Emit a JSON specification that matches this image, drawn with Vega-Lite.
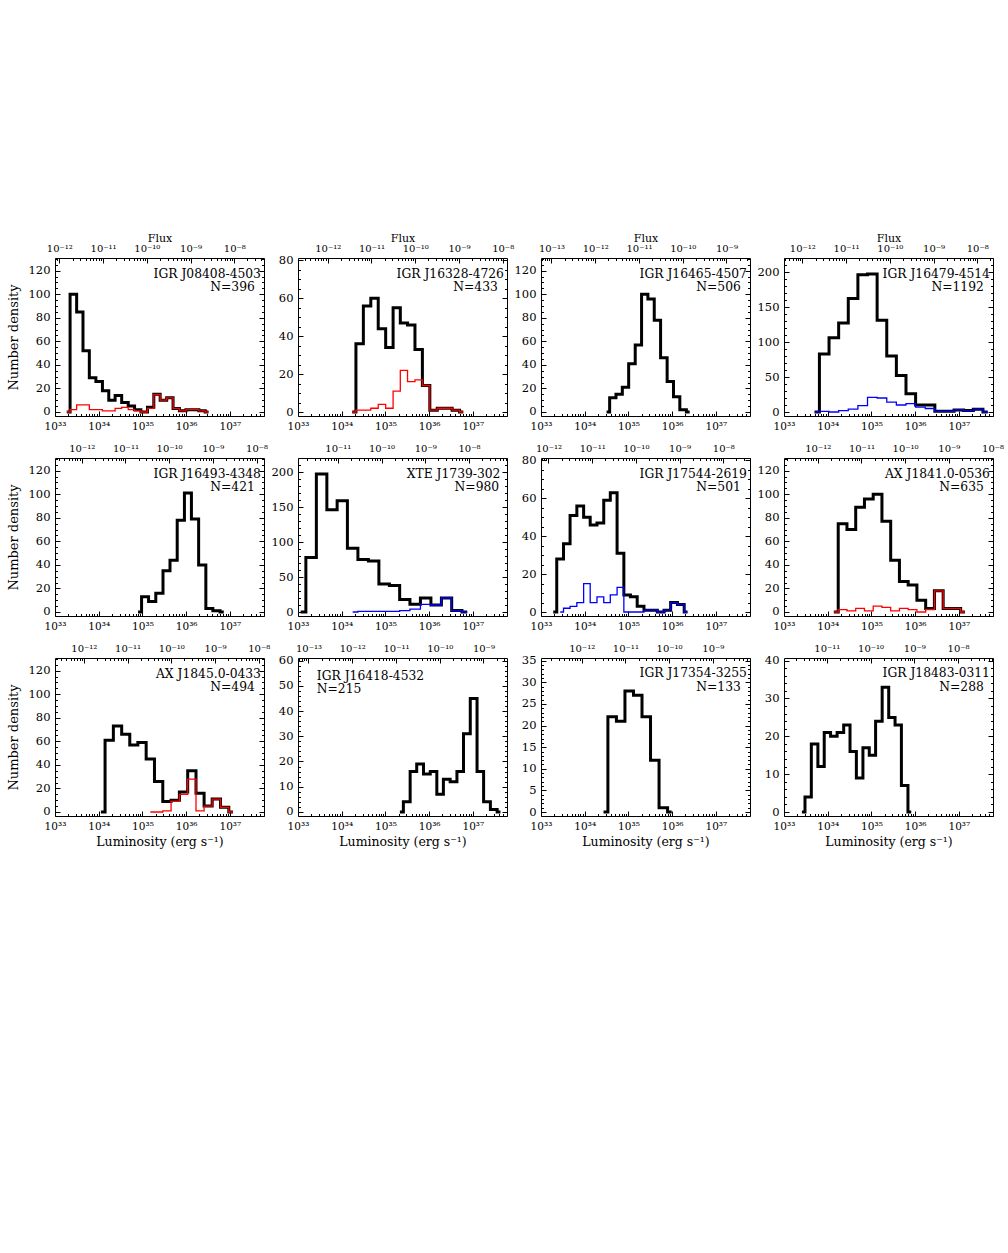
{
"$schema": "https://vega.github.io/schema/vega-lite/v6.json",
"background": "white",
"autosize": {"type": "pad"},
"padding": {"left": 6, "top": 231, "right": 5, "bottom": 5},
"columns": 4,
"spacing": {"row": 42, "column": 34},
"bounds": "flush",
"datasets": {
"h": [
{"p":1,"s":"k","x":33.27,"y":0},{"p":1,"s":"k","x":33.42,"y":100},{"p":1,"s":"k","x":33.57,"y":85},{"p":1,"s":"k","x":33.71,"y":52},{"p":1,"s":"k","x":33.86,"y":29},{"p":1,"s":"k","x":34.01,"y":26},{"p":1,"s":"k","x":34.16,"y":18},{"p":1,"s":"k","x":34.30,"y":10},{"p":1,"s":"k","x":34.45,"y":14},{"p":1,"s":"k","x":34.60,"y":8},{"p":1,"s":"k","x":34.75,"y":5},{"p":1,"s":"k","x":34.89,"y":2},{"p":1,"s":"k","x":35.04,"y":0},{"p":1,"s":"k","x":35.19,"y":4},{"p":1,"s":"k","x":35.33,"y":15},{"p":1,"s":"k","x":35.48,"y":10},{"p":1,"s":"k","x":35.63,"y":12},{"p":1,"s":"k","x":35.77,"y":3},{"p":1,"s":"k","x":35.92,"y":1},{"p":1,"s":"k","x":36.07,"y":2},{"p":1,"s":"k","x":36.22,"y":2},{"p":1,"s":"k","x":36.36,"y":1},{"p":1,"s":"k","x":36.51,"y":0},
{"p":1,"s":"c","x":33.27,"y":0},{"p":1,"s":"c","x":33.42,"y":2},{"p":1,"s":"c","x":33.57,"y":6},{"p":1,"s":"c","x":33.71,"y":6},{"p":1,"s":"c","x":33.86,"y":2},{"p":1,"s":"c","x":34.01,"y":2},{"p":1,"s":"c","x":34.16,"y":1},{"p":1,"s":"c","x":34.30,"y":1},{"p":1,"s":"c","x":34.45,"y":3},{"p":1,"s":"c","x":34.60,"y":4},{"p":1,"s":"c","x":34.75,"y":2},{"p":1,"s":"c","x":34.89,"y":1},{"p":1,"s":"c","x":35.04,"y":0},{"p":1,"s":"c","x":35.19,"y":3},{"p":1,"s":"c","x":35.33,"y":15},{"p":1,"s":"c","x":35.48,"y":10},{"p":1,"s":"c","x":35.63,"y":12},{"p":1,"s":"c","x":35.77,"y":3},{"p":1,"s":"c","x":35.92,"y":1},{"p":1,"s":"c","x":36.07,"y":2},{"p":1,"s":"c","x":36.22,"y":2},{"p":1,"s":"c","x":36.36,"y":1},{"p":1,"s":"c","x":36.51,"y":0},
{"p":2,"s":"k","x":34.24,"y":0},{"p":2,"s":"k","x":34.41,"y":36},{"p":2,"s":"k","x":34.58,"y":56},{"p":2,"s":"k","x":34.75,"y":60},{"p":2,"s":"k","x":34.92,"y":44},{"p":2,"s":"k","x":35.09,"y":34},{"p":2,"s":"k","x":35.26,"y":55},{"p":2,"s":"k","x":35.42,"y":47},{"p":2,"s":"k","x":35.59,"y":46},{"p":2,"s":"k","x":35.76,"y":33},{"p":2,"s":"k","x":35.93,"y":14},{"p":2,"s":"k","x":36.10,"y":1},{"p":2,"s":"k","x":36.27,"y":2},{"p":2,"s":"k","x":36.44,"y":2},{"p":2,"s":"k","x":36.61,"y":1},{"p":2,"s":"k","x":36.78,"y":0},
{"p":2,"s":"c","x":34.24,"y":0},{"p":2,"s":"c","x":34.41,"y":1},{"p":2,"s":"c","x":34.58,"y":1},{"p":2,"s":"c","x":34.75,"y":2},{"p":2,"s":"c","x":34.92,"y":4},{"p":2,"s":"c","x":35.09,"y":2},{"p":2,"s":"c","x":35.26,"y":11},{"p":2,"s":"c","x":35.42,"y":22},{"p":2,"s":"c","x":35.59,"y":16},{"p":2,"s":"c","x":35.76,"y":17},{"p":2,"s":"c","x":35.93,"y":14},{"p":2,"s":"c","x":36.10,"y":1},{"p":2,"s":"c","x":36.27,"y":2},{"p":2,"s":"c","x":36.44,"y":2},{"p":2,"s":"c","x":36.61,"y":1},{"p":2,"s":"c","x":36.78,"y":0},
{"p":3,"s":"k","x":34.50,"y":0},{"p":3,"s":"k","x":34.64,"y":12},{"p":3,"s":"k","x":34.79,"y":15},{"p":3,"s":"k","x":34.93,"y":21},{"p":3,"s":"k","x":35.08,"y":41},{"p":3,"s":"k","x":35.23,"y":57},{"p":3,"s":"k","x":35.37,"y":100},{"p":3,"s":"k","x":35.52,"y":96},{"p":3,"s":"k","x":35.66,"y":78},{"p":3,"s":"k","x":35.81,"y":46},{"p":3,"s":"k","x":35.96,"y":26},{"p":3,"s":"k","x":36.10,"y":13},{"p":3,"s":"k","x":36.25,"y":2},{"p":3,"s":"k","x":36.40,"y":0},
{"p":4,"s":"k","x":33.70,"y":0},{"p":4,"s":"k","x":33.92,"y":83},{"p":4,"s":"k","x":34.14,"y":106},{"p":4,"s":"k","x":34.36,"y":127},{"p":4,"s":"k","x":34.58,"y":162},{"p":4,"s":"k","x":34.80,"y":196},{"p":4,"s":"k","x":35.02,"y":197},{"p":4,"s":"k","x":35.24,"y":131},{"p":4,"s":"k","x":35.46,"y":80},{"p":4,"s":"k","x":35.68,"y":52},{"p":4,"s":"k","x":35.90,"y":26},{"p":4,"s":"k","x":36.12,"y":10},{"p":4,"s":"k","x":36.34,"y":10},{"p":4,"s":"k","x":36.56,"y":1},{"p":4,"s":"k","x":36.78,"y":1},{"p":4,"s":"k","x":37.00,"y":3},{"p":4,"s":"k","x":37.22,"y":2},{"p":4,"s":"k","x":37.44,"y":4},{"p":4,"s":"k","x":37.66,"y":0},
{"p":4,"s":"c","x":33.70,"y":0},{"p":4,"s":"c","x":33.92,"y":1},{"p":4,"s":"c","x":34.14,"y":0},{"p":4,"s":"c","x":34.36,"y":2},{"p":4,"s":"c","x":34.58,"y":4},{"p":4,"s":"c","x":34.80,"y":9},{"p":4,"s":"c","x":35.02,"y":21},{"p":4,"s":"c","x":35.24,"y":20},{"p":4,"s":"c","x":35.46,"y":14},{"p":4,"s":"c","x":35.68,"y":10},{"p":4,"s":"c","x":35.90,"y":12},{"p":4,"s":"c","x":36.12,"y":7},{"p":4,"s":"c","x":36.34,"y":5},{"p":4,"s":"c","x":36.56,"y":1},{"p":4,"s":"c","x":36.78,"y":1},{"p":4,"s":"c","x":37.00,"y":3},{"p":4,"s":"c","x":37.22,"y":2},{"p":4,"s":"c","x":37.44,"y":4},{"p":4,"s":"c","x":37.66,"y":0},
{"p":5,"s":"k","x":34.90,"y":0},{"p":5,"s":"k","x":35.06,"y":13},{"p":5,"s":"k","x":35.22,"y":9},{"p":5,"s":"k","x":35.39,"y":16},{"p":5,"s":"k","x":35.55,"y":35},{"p":5,"s":"k","x":35.71,"y":44},{"p":5,"s":"k","x":35.88,"y":78},{"p":5,"s":"k","x":36.04,"y":101},{"p":5,"s":"k","x":36.20,"y":79},{"p":5,"s":"k","x":36.37,"y":40},{"p":5,"s":"k","x":36.53,"y":3},{"p":5,"s":"k","x":36.69,"y":1},{"p":5,"s":"k","x":36.86,"y":0},
{"p":6,"s":"k","x":33.06,"y":0},{"p":6,"s":"k","x":33.30,"y":78},{"p":6,"s":"k","x":33.54,"y":197},{"p":6,"s":"k","x":33.78,"y":146},{"p":6,"s":"k","x":34.01,"y":159},{"p":6,"s":"k","x":34.25,"y":91},{"p":6,"s":"k","x":34.49,"y":75},{"p":6,"s":"k","x":34.73,"y":73},{"p":6,"s":"k","x":34.97,"y":40},{"p":6,"s":"k","x":35.21,"y":38},{"p":6,"s":"k","x":35.44,"y":18},{"p":6,"s":"k","x":35.68,"y":11},{"p":6,"s":"k","x":35.92,"y":20},{"p":6,"s":"k","x":36.16,"y":10},{"p":6,"s":"k","x":36.40,"y":20},{"p":6,"s":"k","x":36.63,"y":2},{"p":6,"s":"k","x":36.87,"y":0},
{"p":6,"s":"c","x":34.25,"y":0},{"p":6,"s":"c","x":34.49,"y":1},{"p":6,"s":"c","x":34.73,"y":1},{"p":6,"s":"c","x":34.97,"y":1},{"p":6,"s":"c","x":35.21,"y":1},{"p":6,"s":"c","x":35.44,"y":2},{"p":6,"s":"c","x":35.68,"y":4},{"p":6,"s":"c","x":35.92,"y":11},{"p":6,"s":"c","x":36.16,"y":10},{"p":6,"s":"c","x":36.40,"y":20},{"p":6,"s":"c","x":36.63,"y":2},{"p":6,"s":"c","x":36.87,"y":0},
{"p":7,"s":"k","x":33.28,"y":0},{"p":7,"s":"k","x":33.44,"y":28},{"p":7,"s":"k","x":33.59,"y":36},{"p":7,"s":"k","x":33.74,"y":51},{"p":7,"s":"k","x":33.90,"y":56},{"p":7,"s":"k","x":34.05,"y":50},{"p":7,"s":"k","x":34.20,"y":46},{"p":7,"s":"k","x":34.36,"y":47},{"p":7,"s":"k","x":34.51,"y":59},{"p":7,"s":"k","x":34.66,"y":63},{"p":7,"s":"k","x":34.82,"y":31},{"p":7,"s":"k","x":34.97,"y":9},{"p":7,"s":"k","x":35.12,"y":8},{"p":7,"s":"k","x":35.28,"y":3},{"p":7,"s":"k","x":35.43,"y":1},{"p":7,"s":"k","x":35.58,"y":1},{"p":7,"s":"k","x":35.74,"y":0},{"p":7,"s":"k","x":35.89,"y":1},{"p":7,"s":"k","x":36.04,"y":5},{"p":7,"s":"k","x":36.20,"y":4},{"p":7,"s":"k","x":36.35,"y":0},
{"p":7,"s":"c","x":33.44,"y":0},{"p":7,"s":"c","x":33.59,"y":2},{"p":7,"s":"c","x":33.74,"y":3},{"p":7,"s":"c","x":33.90,"y":5},{"p":7,"s":"c","x":34.05,"y":15},{"p":7,"s":"c","x":34.20,"y":5},{"p":7,"s":"c","x":34.36,"y":8},{"p":7,"s":"c","x":34.51,"y":5},{"p":7,"s":"c","x":34.66,"y":9},{"p":7,"s":"c","x":34.82,"y":13},{"p":7,"s":"c","x":34.97,"y":0},{"p":7,"s":"c","x":35.12,"y":0},{"p":7,"s":"c","x":35.28,"y":0},{"p":7,"s":"c","x":35.43,"y":1},{"p":7,"s":"c","x":35.58,"y":1},{"p":7,"s":"c","x":35.74,"y":0},{"p":7,"s":"c","x":35.89,"y":1},{"p":7,"s":"c","x":36.04,"y":5},{"p":7,"s":"c","x":36.20,"y":4},{"p":7,"s":"c","x":36.35,"y":0},
{"p":8,"s":"k","x":34.14,"y":0},{"p":8,"s":"k","x":34.34,"y":75},{"p":8,"s":"k","x":34.54,"y":70},{"p":8,"s":"k","x":34.74,"y":89},{"p":8,"s":"k","x":34.94,"y":96},{"p":8,"s":"k","x":35.14,"y":100},{"p":8,"s":"k","x":35.34,"y":77},{"p":8,"s":"k","x":35.54,"y":44},{"p":8,"s":"k","x":35.74,"y":26},{"p":8,"s":"k","x":35.94,"y":23},{"p":8,"s":"k","x":36.14,"y":10},{"p":8,"s":"k","x":36.34,"y":3},{"p":8,"s":"k","x":36.54,"y":18},{"p":8,"s":"k","x":36.74,"y":3},{"p":8,"s":"k","x":36.94,"y":3},{"p":8,"s":"k","x":37.14,"y":0},
{"p":8,"s":"c","x":34.14,"y":0},{"p":8,"s":"c","x":34.34,"y":2},{"p":8,"s":"c","x":34.54,"y":1},{"p":8,"s":"c","x":34.74,"y":3},{"p":8,"s":"c","x":34.94,"y":1},{"p":8,"s":"c","x":35.14,"y":5},{"p":8,"s":"c","x":35.34,"y":4},{"p":8,"s":"c","x":35.54,"y":1},{"p":8,"s":"c","x":35.74,"y":3},{"p":8,"s":"c","x":35.94,"y":2},{"p":8,"s":"c","x":36.14,"y":0},{"p":8,"s":"c","x":36.34,"y":2},{"p":8,"s":"c","x":36.54,"y":18},{"p":8,"s":"c","x":36.74,"y":3},{"p":8,"s":"c","x":36.94,"y":3},{"p":8,"s":"c","x":37.14,"y":0},
{"p":9,"s":"k","x":34.05,"y":0},{"p":9,"s":"k","x":34.24,"y":61},{"p":9,"s":"k","x":34.43,"y":73},{"p":9,"s":"k","x":34.62,"y":66},{"p":9,"s":"k","x":34.80,"y":57},{"p":9,"s":"k","x":34.99,"y":59},{"p":9,"s":"k","x":35.18,"y":45},{"p":9,"s":"k","x":35.37,"y":26},{"p":9,"s":"k","x":35.56,"y":9},{"p":9,"s":"k","x":35.75,"y":10},{"p":9,"s":"k","x":35.94,"y":17},{"p":9,"s":"k","x":36.13,"y":35},{"p":9,"s":"k","x":36.32,"y":16},{"p":9,"s":"k","x":36.50,"y":5},{"p":9,"s":"k","x":36.69,"y":11},{"p":9,"s":"k","x":36.88,"y":4},{"p":9,"s":"k","x":37.07,"y":0},
{"p":9,"s":"c","x":35.18,"y":0},{"p":9,"s":"c","x":35.37,"y":0},{"p":9,"s":"c","x":35.56,"y":1},{"p":9,"s":"c","x":35.75,"y":9},{"p":9,"s":"c","x":35.94,"y":15},{"p":9,"s":"c","x":36.13,"y":28},{"p":9,"s":"c","x":36.32,"y":1},{"p":9,"s":"c","x":36.50,"y":5},{"p":9,"s":"c","x":36.69,"y":11},{"p":9,"s":"c","x":36.88,"y":4},{"p":9,"s":"c","x":37.07,"y":0},
{"p":10,"s":"k","x":35.33,"y":0},{"p":10,"s":"k","x":35.49,"y":4},{"p":10,"s":"k","x":35.64,"y":16},{"p":10,"s":"k","x":35.79,"y":19},{"p":10,"s":"k","x":35.95,"y":15},{"p":10,"s":"k","x":36.10,"y":16},{"p":10,"s":"k","x":36.25,"y":7},{"p":10,"s":"k","x":36.40,"y":13},{"p":10,"s":"k","x":36.56,"y":12},{"p":10,"s":"k","x":36.71,"y":16},{"p":10,"s":"k","x":36.86,"y":31},{"p":10,"s":"k","x":37.02,"y":45},{"p":10,"s":"k","x":37.17,"y":16},{"p":10,"s":"k","x":37.32,"y":4},{"p":10,"s":"k","x":37.48,"y":1},{"p":10,"s":"k","x":37.63,"y":0},
{"p":11,"s":"k","x":34.43,"y":0},{"p":11,"s":"k","x":34.63,"y":22},{"p":11,"s":"k","x":34.82,"y":21},{"p":11,"s":"k","x":35.02,"y":28},{"p":11,"s":"k","x":35.21,"y":27},{"p":11,"s":"k","x":35.41,"y":22},{"p":11,"s":"k","x":35.60,"y":12},{"p":11,"s":"k","x":35.80,"y":1},{"p":11,"s":"k","x":35.99,"y":0},
{"p":12,"s":"k","x":33.41,"y":0},{"p":12,"s":"k","x":33.55,"y":4},{"p":12,"s":"k","x":33.70,"y":18},{"p":12,"s":"k","x":33.85,"y":12},{"p":12,"s":"k","x":33.99,"y":21},{"p":12,"s":"k","x":34.14,"y":20},{"p":12,"s":"k","x":34.29,"y":21},{"p":12,"s":"k","x":34.44,"y":23},{"p":12,"s":"k","x":34.58,"y":16},{"p":12,"s":"k","x":34.73,"y":9},{"p":12,"s":"k","x":34.88,"y":17},{"p":12,"s":"k","x":35.02,"y":15},{"p":12,"s":"k","x":35.17,"y":24},{"p":12,"s":"k","x":35.32,"y":33},{"p":12,"s":"k","x":35.47,"y":25},{"p":12,"s":"k","x":35.61,"y":23},{"p":12,"s":"k","x":35.76,"y":7},{"p":12,"s":"k","x":35.91,"y":0}
],
"t": [
{"p":1,"name":"IGR J08408-4503","n":"N=396"},
{"p":2,"name":"IGR J16328-4726","n":"N=433"},
{"p":3,"name":"IGR J16465-4507","n":"N=506"},
{"p":4,"name":"IGR J16479-4514","n":"N=1192"},
{"p":5,"name":"IGR J16493-4348","n":"N=421"},
{"p":6,"name":"XTE J1739-302","n":"N=980"},
{"p":7,"name":"IGR J17544-2619","n":"N=501"},
{"p":8,"name":"AX J1841.0-0536","n":"N=635"},
{"p":9,"name":"AX J1845.0-0433","n":"N=494"},
{"p":10,"name":"IGR J16418-4532","n":"N=215"},
{"p":11,"name":"IGR J17354-3255","n":"N=133"},
{"p":12,"name":"IGR J18483-0311","n":"N=288"}
]
},
"concat": [
{"width":209,"height":158,"data":{"name":"h"},"transform":[{"filter":"datum.p==1"}],
"resolve":{"scale":{"x":"independent"},"axis":{"x":"independent","y":"independent"}},
"layer":[
{"transform":[{"filter":"datum.s=='k'"}],"mark":{"type":"line","interpolate":"step","color":"#000","strokeWidth":3,"strokeJoin":"miter"},"encoding":{"x":{"field":"x","type":"quantitative","scale":{"domain":[33,37.78],"nice":false,"zero":false},"axis":{"orient":"bottom","values":[33,34,35,36,37],"labelExpr":"'10'+(datum.value==33?'³³':datum.value==34?'³⁴':datum.value==35?'³⁵':datum.value==36?'³⁶':'³⁷')","tickSize":-5,"labelPadding":10.5,"labelFontSize":10.5,"title":null}},"y":{"field":"y","type":"quantitative","scale":{"domain":[-3.4,130.8],"nice":false,"zero":false},"axis":{"orient":"left","values":[0,20,40,60,80,100,120],"tickSize":-5,"labelPadding":10,"labelFontSize":11.5,"title":"Number density","titleFontSize":13,"titlePadding":8}}}},
{"transform":[{"filter":"datum.s=='c'"}],"mark":{"type":"line","interpolate":"step","color":"#ff0000","strokeWidth":1.3},"encoding":{"x":{"field":"x","type":"quantitative","scale":{"domain":[33,37.78],"nice":false,"zero":false},"axis":null},"y":{"field":"y","type":"quantitative","scale":{"domain":[-3.4,130.8],"nice":false,"zero":false},"axis":null}}},
{"mark":{"type":"point","opacity":0},"encoding":{"x":{"datum":35,"type":"quantitative","scale":{"domain":[33,37.78],"nice":false,"zero":false},"axis":{"orient":"bottom","values":[33.301,33.477,33.602,33.699,33.778,33.845,33.903,33.954,34.301,34.477,34.602,34.699,34.778,34.845,34.903,34.954,35.301,35.477,35.602,35.699,35.778,35.845,35.903,35.954,36.301,36.477,36.602,36.699,36.778,36.845,36.903,36.954,37.301,37.477,37.602,37.699,37.778],"tickCount":100,"labels":false,"tickSize":-2.5,"title":null}},"y":{"datum":0,"type":"quantitative","scale":{"domain":[-3.4,130.8],"nice":false,"zero":false},"axis":{"orient":"left","values":[0,5,10,15,20,25,30,35,40,45,50,55,60,65,70,75,80,85,90,95,100,105,110,115,120,125,130],"tickCount":100,"labels":false,"tickSize":-2.5,"title":null}}}},
{"mark":{"type":"point","opacity":0},"encoding":{"x":{"datum":-10,"type":"quantitative","scale":{"domain":[-12.10,-7.32],"nice":false,"zero":false},"axis":{"orient":"top","values":[-13,-12,-11,-10,-9,-8],"labelExpr":"'10'+(datum.value==-13?'⁻¹³':datum.value==-12?'⁻¹²':datum.value==-11?'⁻¹¹':datum.value==-10?'⁻¹⁰':datum.value==-9?'⁻⁹':'⁻⁸')","tickSize":-5,"labelPadding":10,"labelFontSize":10,"title":"Flux","titleFontSize":11,"titlePadding":0}},"y":{"datum":0,"type":"quantitative","scale":{"domain":[-3.4,130.8],"nice":false,"zero":false},"axis":{"orient":"right","values":[0,20,40,60,80,100,120],"labels":false,"tickSize":-5,"title":null}}}},
{"mark":{"type":"point","opacity":0},"encoding":{"x":{"datum":-10,"type":"quantitative","scale":{"domain":[-12.10,-7.32],"nice":false,"zero":false},"axis":{"orient":"top","values":[-13.699,-13.523,-13.398,-13.301,-13.222,-13.155,-13.097,-13.046,-12.699,-12.523,-12.398,-12.301,-12.222,-12.155,-12.097,-12.046,-11.699,-11.523,-11.398,-11.301,-11.222,-11.155,-11.097,-11.046,-10.699,-10.523,-10.398,-10.301,-10.222,-10.155,-10.097,-10.046,-9.699,-9.523,-9.398,-9.301,-9.222,-9.155,-9.097,-9.046,-8.699,-8.523,-8.398,-8.301,-8.222,-8.155,-8.097,-8.046,-7.699,-7.523,-7.398,-7.301,-7.222,-7.155,-7.097,-7.046],"tickCount":100,"labels":false,"tickSize":-2.5,"title":null}},"y":{"datum":0,"type":"quantitative","scale":{"domain":[-3.4,130.8],"nice":false,"zero":false},"axis":{"orient":"right","values":[0,5,10,15,20,25,30,35,40,45,50,55,60,65,70,75,80,85,90,95,100,105,110,115,120,125,130],"tickCount":100,"labels":false,"tickSize":-2.5,"title":null}}}},
{"data":{"name":"t"},"transform":[{"filter":"datum.p==1"}],"mark":{"type":"text","align":"right","baseline":"alphabetic"},"encoding":{"x":{"datum":37.71,"type":"quantitative","scale":{"domain":[33,37.78],"nice":false,"zero":false},"axis":null},"y":{"datum":114.2,"type":"quantitative","scale":{"domain":[-3.4,130.8],"nice":false,"zero":false},"axis":null},"text":{"field":"name"}}},
{"data":{"name":"t"},"transform":[{"filter":"datum.p==1"}],"mark":{"type":"text","align":"right","baseline":"alphabetic"},"encoding":{"x":{"datum":37.57,"type":"quantitative","scale":{"domain":[33,37.78],"nice":false,"zero":false},"axis":null},"y":{"datum":102.8,"type":"quantitative","scale":{"domain":[-3.4,130.8],"nice":false,"zero":false},"axis":null},"text":{"field":"n"}}}
]},
{"width":209,"height":158,"data":{"name":"h"},"transform":[{"filter":"datum.p==2"}],
"resolve":{"scale":{"x":"independent"},"axis":{"x":"independent","y":"independent"}},
"layer":[
{"transform":[{"filter":"datum.s=='k'"}],"mark":{"type":"line","interpolate":"step","color":"#000","strokeWidth":3,"strokeJoin":"miter"},"encoding":{"x":{"field":"x","type":"quantitative","scale":{"domain":[33,37.78],"nice":false,"zero":false},"axis":{"orient":"bottom","values":[33,34,35,36,37],"labelExpr":"'10'+(datum.value==33?'³³':datum.value==34?'³⁴':datum.value==35?'³⁵':datum.value==36?'³⁶':'³⁷')","tickSize":-5,"labelPadding":10.5,"labelFontSize":10.5,"title":null}},"y":{"field":"y","type":"quantitative","scale":{"domain":[-2.1,81.3],"nice":false,"zero":false},"axis":{"orient":"left","values":[0,20,40,60,80],"tickSize":-5,"labelPadding":10,"labelFontSize":11.5,"title":null}}}},
{"transform":[{"filter":"datum.s=='c'"}],"mark":{"type":"line","interpolate":"step","color":"#ff0000","strokeWidth":1.3},"encoding":{"x":{"field":"x","type":"quantitative","scale":{"domain":[33,37.78],"nice":false,"zero":false},"axis":null},"y":{"field":"y","type":"quantitative","scale":{"domain":[-2.1,81.3],"nice":false,"zero":false},"axis":null}}},
{"mark":{"type":"point","opacity":0},"encoding":{"x":{"datum":35,"type":"quantitative","scale":{"domain":[33,37.78],"nice":false,"zero":false},"axis":{"orient":"bottom","values":[33.301,33.477,33.602,33.699,33.778,33.845,33.903,33.954,34.301,34.477,34.602,34.699,34.778,34.845,34.903,34.954,35.301,35.477,35.602,35.699,35.778,35.845,35.903,35.954,36.301,36.477,36.602,36.699,36.778,36.845,36.903,36.954,37.301,37.477,37.602,37.699,37.778],"tickCount":100,"labels":false,"tickSize":-2.5,"title":null}},"y":{"datum":0,"type":"quantitative","scale":{"domain":[-2.1,81.3],"nice":false,"zero":false},"axis":{"orient":"left","values":[0,5,10,15,20,25,30,35,40,45,50,55,60,65,70,75,80],"tickCount":100,"labels":false,"tickSize":-2.5,"title":null}}}},
{"mark":{"type":"point","opacity":0},"encoding":{"x":{"datum":-10,"type":"quantitative","scale":{"domain":[-12.68,-7.90],"nice":false,"zero":false},"axis":{"orient":"top","values":[-13,-12,-11,-10,-9,-8],"labelExpr":"'10'+(datum.value==-13?'⁻¹³':datum.value==-12?'⁻¹²':datum.value==-11?'⁻¹¹':datum.value==-10?'⁻¹⁰':datum.value==-9?'⁻⁹':'⁻⁸')","tickSize":-5,"labelPadding":10,"labelFontSize":10,"title":"Flux","titleFontSize":11,"titlePadding":0}},"y":{"datum":0,"type":"quantitative","scale":{"domain":[-2.1,81.3],"nice":false,"zero":false},"axis":{"orient":"right","values":[0,20,40,60,80],"labels":false,"tickSize":-5,"title":null}}}},
{"mark":{"type":"point","opacity":0},"encoding":{"x":{"datum":-10,"type":"quantitative","scale":{"domain":[-12.68,-7.90],"nice":false,"zero":false},"axis":{"orient":"top","values":[-13.699,-13.523,-13.398,-13.301,-13.222,-13.155,-13.097,-13.046,-12.699,-12.523,-12.398,-12.301,-12.222,-12.155,-12.097,-12.046,-11.699,-11.523,-11.398,-11.301,-11.222,-11.155,-11.097,-11.046,-10.699,-10.523,-10.398,-10.301,-10.222,-10.155,-10.097,-10.046,-9.699,-9.523,-9.398,-9.301,-9.222,-9.155,-9.097,-9.046,-8.699,-8.523,-8.398,-8.301,-8.222,-8.155,-8.097,-8.046,-7.699,-7.523,-7.398,-7.301,-7.222,-7.155,-7.097,-7.046],"tickCount":100,"labels":false,"tickSize":-2.5,"title":null}},"y":{"datum":0,"type":"quantitative","scale":{"domain":[-2.1,81.3],"nice":false,"zero":false},"axis":{"orient":"right","values":[0,5,10,15,20,25,30,35,40,45,50,55,60,65,70,75,80],"tickCount":100,"labels":false,"tickSize":-2.5,"title":null}}}},
{"data":{"name":"t"},"transform":[{"filter":"datum.p==2"}],"mark":{"type":"text","align":"right","baseline":"alphabetic"},"encoding":{"x":{"datum":37.71,"type":"quantitative","scale":{"domain":[33,37.78],"nice":false,"zero":false},"axis":null},"y":{"datum":71.0,"type":"quantitative","scale":{"domain":[-2.1,81.3],"nice":false,"zero":false},"axis":null},"text":{"field":"name"}}},
{"data":{"name":"t"},"transform":[{"filter":"datum.p==2"}],"mark":{"type":"text","align":"right","baseline":"alphabetic"},"encoding":{"x":{"datum":37.57,"type":"quantitative","scale":{"domain":[33,37.78],"nice":false,"zero":false},"axis":null},"y":{"datum":63.9,"type":"quantitative","scale":{"domain":[-2.1,81.3],"nice":false,"zero":false},"axis":null},"text":{"field":"n"}}}
]},
{"width":209,"height":158,"data":{"name":"h"},"transform":[{"filter":"datum.p==3"}],
"resolve":{"scale":{"x":"independent"},"axis":{"x":"independent","y":"independent"}},
"layer":[
{"transform":[{"filter":"datum.s=='k'"}],"mark":{"type":"line","interpolate":"step","color":"#000","strokeWidth":3,"strokeJoin":"miter"},"encoding":{"x":{"field":"x","type":"quantitative","scale":{"domain":[33,37.78],"nice":false,"zero":false},"axis":{"orient":"bottom","values":[33,34,35,36,37],"labelExpr":"'10'+(datum.value==33?'³³':datum.value==34?'³⁴':datum.value==35?'³⁵':datum.value==36?'³⁶':'³⁷')","tickSize":-5,"labelPadding":10.5,"labelFontSize":10.5,"title":null}},"y":{"field":"y","type":"quantitative","scale":{"domain":[-3.4,130.8],"nice":false,"zero":false},"axis":{"orient":"left","values":[0,20,40,60,80,100,120],"tickSize":-5,"labelPadding":10,"labelFontSize":11.5,"title":null}}}},
{"mark":{"type":"point","opacity":0},"encoding":{"x":{"datum":35,"type":"quantitative","scale":{"domain":[33,37.78],"nice":false,"zero":false},"axis":{"orient":"bottom","values":[33.301,33.477,33.602,33.699,33.778,33.845,33.903,33.954,34.301,34.477,34.602,34.699,34.778,34.845,34.903,34.954,35.301,35.477,35.602,35.699,35.778,35.845,35.903,35.954,36.301,36.477,36.602,36.699,36.778,36.845,36.903,36.954,37.301,37.477,37.602,37.699,37.778],"tickCount":100,"labels":false,"tickSize":-2.5,"title":null}},"y":{"datum":0,"type":"quantitative","scale":{"domain":[-3.4,130.8],"nice":false,"zero":false},"axis":{"orient":"left","values":[0,5,10,15,20,25,30,35,40,45,50,55,60,65,70,75,80,85,90,95,100,105,110,115,120,125,130],"tickCount":100,"labels":false,"tickSize":-2.5,"title":null}}}},
{"mark":{"type":"point","opacity":0},"encoding":{"x":{"datum":-10,"type":"quantitative","scale":{"domain":[-13.24,-8.46],"nice":false,"zero":false},"axis":{"orient":"top","values":[-13,-12,-11,-10,-9,-8],"labelExpr":"'10'+(datum.value==-13?'⁻¹³':datum.value==-12?'⁻¹²':datum.value==-11?'⁻¹¹':datum.value==-10?'⁻¹⁰':datum.value==-9?'⁻⁹':'⁻⁸')","tickSize":-5,"labelPadding":10,"labelFontSize":10,"title":"Flux","titleFontSize":11,"titlePadding":0}},"y":{"datum":0,"type":"quantitative","scale":{"domain":[-3.4,130.8],"nice":false,"zero":false},"axis":{"orient":"right","values":[0,20,40,60,80,100,120],"labels":false,"tickSize":-5,"title":null}}}},
{"mark":{"type":"point","opacity":0},"encoding":{"x":{"datum":-10,"type":"quantitative","scale":{"domain":[-13.24,-8.46],"nice":false,"zero":false},"axis":{"orient":"top","values":[-13.699,-13.523,-13.398,-13.301,-13.222,-13.155,-13.097,-13.046,-12.699,-12.523,-12.398,-12.301,-12.222,-12.155,-12.097,-12.046,-11.699,-11.523,-11.398,-11.301,-11.222,-11.155,-11.097,-11.046,-10.699,-10.523,-10.398,-10.301,-10.222,-10.155,-10.097,-10.046,-9.699,-9.523,-9.398,-9.301,-9.222,-9.155,-9.097,-9.046,-8.699,-8.523,-8.398,-8.301,-8.222,-8.155,-8.097,-8.046,-7.699,-7.523,-7.398,-7.301,-7.222,-7.155,-7.097,-7.046],"tickCount":100,"labels":false,"tickSize":-2.5,"title":null}},"y":{"datum":0,"type":"quantitative","scale":{"domain":[-3.4,130.8],"nice":false,"zero":false},"axis":{"orient":"right","values":[0,5,10,15,20,25,30,35,40,45,50,55,60,65,70,75,80,85,90,95,100,105,110,115,120,125,130],"tickCount":100,"labels":false,"tickSize":-2.5,"title":null}}}},
{"data":{"name":"t"},"transform":[{"filter":"datum.p==3"}],"mark":{"type":"text","align":"right","baseline":"alphabetic"},"encoding":{"x":{"datum":37.71,"type":"quantitative","scale":{"domain":[33,37.78],"nice":false,"zero":false},"axis":null},"y":{"datum":114.2,"type":"quantitative","scale":{"domain":[-3.4,130.8],"nice":false,"zero":false},"axis":null},"text":{"field":"name"}}},
{"data":{"name":"t"},"transform":[{"filter":"datum.p==3"}],"mark":{"type":"text","align":"right","baseline":"alphabetic"},"encoding":{"x":{"datum":37.57,"type":"quantitative","scale":{"domain":[33,37.78],"nice":false,"zero":false},"axis":null},"y":{"datum":102.8,"type":"quantitative","scale":{"domain":[-3.4,130.8],"nice":false,"zero":false},"axis":null},"text":{"field":"n"}}}
]},
{"width":209,"height":158,"data":{"name":"h"},"transform":[{"filter":"datum.p==4"}],
"resolve":{"scale":{"x":"independent"},"axis":{"x":"independent","y":"independent"}},
"layer":[
{"transform":[{"filter":"datum.s=='k'"}],"mark":{"type":"line","interpolate":"step","color":"#000","strokeWidth":3,"strokeJoin":"miter"},"encoding":{"x":{"field":"x","type":"quantitative","scale":{"domain":[33,37.78],"nice":false,"zero":false},"axis":{"orient":"bottom","values":[33,34,35,36,37],"labelExpr":"'10'+(datum.value==33?'³³':datum.value==34?'³⁴':datum.value==35?'³⁵':datum.value==36?'³⁶':'³⁷')","tickSize":-5,"labelPadding":10.5,"labelFontSize":10.5,"title":null}},"y":{"field":"y","type":"quantitative","scale":{"domain":[-5.7,220],"nice":false,"zero":false},"axis":{"orient":"left","values":[0,50,100,150,200],"tickSize":-5,"labelPadding":10,"labelFontSize":11.5,"title":null}}}},
{"transform":[{"filter":"datum.s=='c'"}],"mark":{"type":"line","interpolate":"step","color":"#0000ff","strokeWidth":1.3},"encoding":{"x":{"field":"x","type":"quantitative","scale":{"domain":[33,37.78],"nice":false,"zero":false},"axis":null},"y":{"field":"y","type":"quantitative","scale":{"domain":[-5.7,220],"nice":false,"zero":false},"axis":null}}},
{"mark":{"type":"point","opacity":0},"encoding":{"x":{"datum":35,"type":"quantitative","scale":{"domain":[33,37.78],"nice":false,"zero":false},"axis":{"orient":"bottom","values":[33.301,33.477,33.602,33.699,33.778,33.845,33.903,33.954,34.301,34.477,34.602,34.699,34.778,34.845,34.903,34.954,35.301,35.477,35.602,35.699,35.778,35.845,35.903,35.954,36.301,36.477,36.602,36.699,36.778,36.845,36.903,36.954,37.301,37.477,37.602,37.699,37.778],"tickCount":100,"labels":false,"tickSize":-2.5,"title":null}},"y":{"datum":0,"type":"quantitative","scale":{"domain":[-5.7,220],"nice":false,"zero":false},"axis":{"orient":"left","values":[0,10,20,30,40,50,60,70,80,90,100,110,120,130,140,150,160,170,180,190,200,210,220],"tickCount":100,"labels":false,"tickSize":-2.5,"title":null}}}},
{"mark":{"type":"point","opacity":0},"encoding":{"x":{"datum":-10,"type":"quantitative","scale":{"domain":[-12.42,-7.64],"nice":false,"zero":false},"axis":{"orient":"top","values":[-13,-12,-11,-10,-9,-8],"labelExpr":"'10'+(datum.value==-13?'⁻¹³':datum.value==-12?'⁻¹²':datum.value==-11?'⁻¹¹':datum.value==-10?'⁻¹⁰':datum.value==-9?'⁻⁹':'⁻⁸')","tickSize":-5,"labelPadding":10,"labelFontSize":10,"title":"Flux","titleFontSize":11,"titlePadding":0}},"y":{"datum":0,"type":"quantitative","scale":{"domain":[-5.7,220],"nice":false,"zero":false},"axis":{"orient":"right","values":[0,50,100,150,200],"labels":false,"tickSize":-5,"title":null}}}},
{"mark":{"type":"point","opacity":0},"encoding":{"x":{"datum":-10,"type":"quantitative","scale":{"domain":[-12.42,-7.64],"nice":false,"zero":false},"axis":{"orient":"top","values":[-13.699,-13.523,-13.398,-13.301,-13.222,-13.155,-13.097,-13.046,-12.699,-12.523,-12.398,-12.301,-12.222,-12.155,-12.097,-12.046,-11.699,-11.523,-11.398,-11.301,-11.222,-11.155,-11.097,-11.046,-10.699,-10.523,-10.398,-10.301,-10.222,-10.155,-10.097,-10.046,-9.699,-9.523,-9.398,-9.301,-9.222,-9.155,-9.097,-9.046,-8.699,-8.523,-8.398,-8.301,-8.222,-8.155,-8.097,-8.046,-7.699,-7.523,-7.398,-7.301,-7.222,-7.155,-7.097,-7.046],"tickCount":100,"labels":false,"tickSize":-2.5,"title":null}},"y":{"datum":0,"type":"quantitative","scale":{"domain":[-5.7,220],"nice":false,"zero":false},"axis":{"orient":"right","values":[0,10,20,30,40,50,60,70,80,90,100,110,120,130,140,150,160,170,180,190,200,210,220],"tickCount":100,"labels":false,"tickSize":-2.5,"title":null}}}},
{"data":{"name":"t"},"transform":[{"filter":"datum.p==4"}],"mark":{"type":"text","align":"right","baseline":"alphabetic"},"encoding":{"x":{"datum":37.71,"type":"quantitative","scale":{"domain":[33,37.78],"nice":false,"zero":false},"axis":null},"y":{"datum":192.1,"type":"quantitative","scale":{"domain":[-5.7,220],"nice":false,"zero":false},"axis":null},"text":{"field":"name"}}},
{"data":{"name":"t"},"transform":[{"filter":"datum.p==4"}],"mark":{"type":"text","align":"right","baseline":"alphabetic"},"encoding":{"x":{"datum":37.57,"type":"quantitative","scale":{"domain":[33,37.78],"nice":false,"zero":false},"axis":null},"y":{"datum":172.9,"type":"quantitative","scale":{"domain":[-5.7,220],"nice":false,"zero":false},"axis":null},"text":{"field":"n"}}}
]},
{"width":209,"height":158,"data":{"name":"h"},"transform":[{"filter":"datum.p==5"}],
"resolve":{"scale":{"x":"independent"},"axis":{"x":"independent","y":"independent"}},
"layer":[
{"transform":[{"filter":"datum.s=='k'"}],"mark":{"type":"line","interpolate":"step","color":"#000","strokeWidth":3,"strokeJoin":"miter"},"encoding":{"x":{"field":"x","type":"quantitative","scale":{"domain":[33,37.78],"nice":false,"zero":false},"axis":{"orient":"bottom","values":[33,34,35,36,37],"labelExpr":"'10'+(datum.value==33?'³³':datum.value==34?'³⁴':datum.value==35?'³⁵':datum.value==36?'³⁶':'³⁷')","tickSize":-5,"labelPadding":10.5,"labelFontSize":10.5,"title":null}},"y":{"field":"y","type":"quantitative","scale":{"domain":[-3.4,130.8],"nice":false,"zero":false},"axis":{"orient":"left","values":[0,20,40,60,80,100,120],"tickSize":-5,"labelPadding":10,"labelFontSize":11.5,"title":"Number density","titleFontSize":13,"titlePadding":8}}}},
{"mark":{"type":"point","opacity":0},"encoding":{"x":{"datum":35,"type":"quantitative","scale":{"domain":[33,37.78],"nice":false,"zero":false},"axis":{"orient":"bottom","values":[33.301,33.477,33.602,33.699,33.778,33.845,33.903,33.954,34.301,34.477,34.602,34.699,34.778,34.845,34.903,34.954,35.301,35.477,35.602,35.699,35.778,35.845,35.903,35.954,36.301,36.477,36.602,36.699,36.778,36.845,36.903,36.954,37.301,37.477,37.602,37.699,37.778],"tickCount":100,"labels":false,"tickSize":-2.5,"title":null}},"y":{"datum":0,"type":"quantitative","scale":{"domain":[-3.4,130.8],"nice":false,"zero":false},"axis":{"orient":"left","values":[0,5,10,15,20,25,30,35,40,45,50,55,60,65,70,75,80,85,90,95,100,105,110,115,120,125,130],"tickCount":100,"labels":false,"tickSize":-2.5,"title":null}}}},
{"mark":{"type":"point","opacity":0},"encoding":{"x":{"datum":-10,"type":"quantitative","scale":{"domain":[-12.61,-7.83],"nice":false,"zero":false},"axis":{"orient":"top","values":[-13,-12,-11,-10,-9,-8],"labelExpr":"'10'+(datum.value==-13?'⁻¹³':datum.value==-12?'⁻¹²':datum.value==-11?'⁻¹¹':datum.value==-10?'⁻¹⁰':datum.value==-9?'⁻⁹':'⁻⁸')","tickSize":-5,"labelPadding":10,"labelFontSize":10,"title":null}},"y":{"datum":0,"type":"quantitative","scale":{"domain":[-3.4,130.8],"nice":false,"zero":false},"axis":{"orient":"right","values":[0,20,40,60,80,100,120],"labels":false,"tickSize":-5,"title":null}}}},
{"mark":{"type":"point","opacity":0},"encoding":{"x":{"datum":-10,"type":"quantitative","scale":{"domain":[-12.61,-7.83],"nice":false,"zero":false},"axis":{"orient":"top","values":[-13.699,-13.523,-13.398,-13.301,-13.222,-13.155,-13.097,-13.046,-12.699,-12.523,-12.398,-12.301,-12.222,-12.155,-12.097,-12.046,-11.699,-11.523,-11.398,-11.301,-11.222,-11.155,-11.097,-11.046,-10.699,-10.523,-10.398,-10.301,-10.222,-10.155,-10.097,-10.046,-9.699,-9.523,-9.398,-9.301,-9.222,-9.155,-9.097,-9.046,-8.699,-8.523,-8.398,-8.301,-8.222,-8.155,-8.097,-8.046,-7.699,-7.523,-7.398,-7.301,-7.222,-7.155,-7.097,-7.046],"tickCount":100,"labels":false,"tickSize":-2.5,"title":null}},"y":{"datum":0,"type":"quantitative","scale":{"domain":[-3.4,130.8],"nice":false,"zero":false},"axis":{"orient":"right","values":[0,5,10,15,20,25,30,35,40,45,50,55,60,65,70,75,80,85,90,95,100,105,110,115,120,125,130],"tickCount":100,"labels":false,"tickSize":-2.5,"title":null}}}},
{"data":{"name":"t"},"transform":[{"filter":"datum.p==5"}],"mark":{"type":"text","align":"right","baseline":"alphabetic"},"encoding":{"x":{"datum":37.71,"type":"quantitative","scale":{"domain":[33,37.78],"nice":false,"zero":false},"axis":null},"y":{"datum":114.2,"type":"quantitative","scale":{"domain":[-3.4,130.8],"nice":false,"zero":false},"axis":null},"text":{"field":"name"}}},
{"data":{"name":"t"},"transform":[{"filter":"datum.p==5"}],"mark":{"type":"text","align":"right","baseline":"alphabetic"},"encoding":{"x":{"datum":37.57,"type":"quantitative","scale":{"domain":[33,37.78],"nice":false,"zero":false},"axis":null},"y":{"datum":102.8,"type":"quantitative","scale":{"domain":[-3.4,130.8],"nice":false,"zero":false},"axis":null},"text":{"field":"n"}}}
]},
{"width":209,"height":158,"data":{"name":"h"},"transform":[{"filter":"datum.p==6"}],
"resolve":{"scale":{"x":"independent"},"axis":{"x":"independent","y":"independent"}},
"layer":[
{"transform":[{"filter":"datum.s=='k'"}],"mark":{"type":"line","interpolate":"step","color":"#000","strokeWidth":3,"strokeJoin":"miter"},"encoding":{"x":{"field":"x","type":"quantitative","scale":{"domain":[33,37.78],"nice":false,"zero":false},"axis":{"orient":"bottom","values":[33,34,35,36,37],"labelExpr":"'10'+(datum.value==33?'³³':datum.value==34?'³⁴':datum.value==35?'³⁵':datum.value==36?'³⁶':'³⁷')","tickSize":-5,"labelPadding":10.5,"labelFontSize":10.5,"title":null}},"y":{"field":"y","type":"quantitative","scale":{"domain":[-5.7,220],"nice":false,"zero":false},"axis":{"orient":"left","values":[0,50,100,150,200],"tickSize":-5,"labelPadding":10,"labelFontSize":11.5,"title":null}}}},
{"transform":[{"filter":"datum.s=='c'"}],"mark":{"type":"line","interpolate":"step","color":"#0000ff","strokeWidth":1.3},"encoding":{"x":{"field":"x","type":"quantitative","scale":{"domain":[33,37.78],"nice":false,"zero":false},"axis":null},"y":{"field":"y","type":"quantitative","scale":{"domain":[-5.7,220],"nice":false,"zero":false},"axis":null}}},
{"mark":{"type":"point","opacity":0},"encoding":{"x":{"datum":35,"type":"quantitative","scale":{"domain":[33,37.78],"nice":false,"zero":false},"axis":{"orient":"bottom","values":[33.301,33.477,33.602,33.699,33.778,33.845,33.903,33.954,34.301,34.477,34.602,34.699,34.778,34.845,34.903,34.954,35.301,35.477,35.602,35.699,35.778,35.845,35.903,35.954,36.301,36.477,36.602,36.699,36.778,36.845,36.903,36.954,37.301,37.477,37.602,37.699,37.778],"tickCount":100,"labels":false,"tickSize":-2.5,"title":null}},"y":{"datum":0,"type":"quantitative","scale":{"domain":[-5.7,220],"nice":false,"zero":false},"axis":{"orient":"left","values":[0,10,20,30,40,50,60,70,80,90,100,110,120,130,140,150,160,170,180,190,200,210,220],"tickCount":100,"labels":false,"tickSize":-2.5,"title":null}}}},
{"mark":{"type":"point","opacity":0},"encoding":{"x":{"datum":-10,"type":"quantitative","scale":{"domain":[-11.91,-7.13],"nice":false,"zero":false},"axis":{"orient":"top","values":[-13,-12,-11,-10,-9,-8],"labelExpr":"'10'+(datum.value==-13?'⁻¹³':datum.value==-12?'⁻¹²':datum.value==-11?'⁻¹¹':datum.value==-10?'⁻¹⁰':datum.value==-9?'⁻⁹':'⁻⁸')","tickSize":-5,"labelPadding":10,"labelFontSize":10,"title":null}},"y":{"datum":0,"type":"quantitative","scale":{"domain":[-5.7,220],"nice":false,"zero":false},"axis":{"orient":"right","values":[0,50,100,150,200],"labels":false,"tickSize":-5,"title":null}}}},
{"mark":{"type":"point","opacity":0},"encoding":{"x":{"datum":-10,"type":"quantitative","scale":{"domain":[-11.91,-7.13],"nice":false,"zero":false},"axis":{"orient":"top","values":[-13.699,-13.523,-13.398,-13.301,-13.222,-13.155,-13.097,-13.046,-12.699,-12.523,-12.398,-12.301,-12.222,-12.155,-12.097,-12.046,-11.699,-11.523,-11.398,-11.301,-11.222,-11.155,-11.097,-11.046,-10.699,-10.523,-10.398,-10.301,-10.222,-10.155,-10.097,-10.046,-9.699,-9.523,-9.398,-9.301,-9.222,-9.155,-9.097,-9.046,-8.699,-8.523,-8.398,-8.301,-8.222,-8.155,-8.097,-8.046,-7.699,-7.523,-7.398,-7.301,-7.222,-7.155,-7.097,-7.046],"tickCount":100,"labels":false,"tickSize":-2.5,"title":null}},"y":{"datum":0,"type":"quantitative","scale":{"domain":[-5.7,220],"nice":false,"zero":false},"axis":{"orient":"right","values":[0,10,20,30,40,50,60,70,80,90,100,110,120,130,140,150,160,170,180,190,200,210,220],"tickCount":100,"labels":false,"tickSize":-2.5,"title":null}}}},
{"data":{"name":"t"},"transform":[{"filter":"datum.p==6"}],"mark":{"type":"text","align":"right","baseline":"alphabetic"},"encoding":{"x":{"datum":37.63,"type":"quantitative","scale":{"domain":[33,37.78],"nice":false,"zero":false},"axis":null},"y":{"datum":192.1,"type":"quantitative","scale":{"domain":[-5.7,220],"nice":false,"zero":false},"axis":null},"text":{"field":"name"}}},
{"data":{"name":"t"},"transform":[{"filter":"datum.p==6"}],"mark":{"type":"text","align":"right","baseline":"alphabetic"},"encoding":{"x":{"datum":37.60,"type":"quantitative","scale":{"domain":[33,37.78],"nice":false,"zero":false},"axis":null},"y":{"datum":172.9,"type":"quantitative","scale":{"domain":[-5.7,220],"nice":false,"zero":false},"axis":null},"text":{"field":"n"}}}
]},
{"width":209,"height":158,"data":{"name":"h"},"transform":[{"filter":"datum.p==7"}],
"resolve":{"scale":{"x":"independent"},"axis":{"x":"independent","y":"independent"}},
"layer":[
{"transform":[{"filter":"datum.s=='k'"}],"mark":{"type":"line","interpolate":"step","color":"#000","strokeWidth":3,"strokeJoin":"miter"},"encoding":{"x":{"field":"x","type":"quantitative","scale":{"domain":[33,37.78],"nice":false,"zero":false},"axis":{"orient":"bottom","values":[33,34,35,36,37],"labelExpr":"'10'+(datum.value==33?'³³':datum.value==34?'³⁴':datum.value==35?'³⁵':datum.value==36?'³⁶':'³⁷')","tickSize":-5,"labelPadding":10.5,"labelFontSize":10.5,"title":null}},"y":{"field":"y","type":"quantitative","scale":{"domain":[-2.1,81.3],"nice":false,"zero":false},"axis":{"orient":"left","values":[0,20,40,60,80],"tickSize":-5,"labelPadding":10,"labelFontSize":11.5,"title":null}}}},
{"transform":[{"filter":"datum.s=='c'"}],"mark":{"type":"line","interpolate":"step","color":"#0000ff","strokeWidth":1.3},"encoding":{"x":{"field":"x","type":"quantitative","scale":{"domain":[33,37.78],"nice":false,"zero":false},"axis":null},"y":{"field":"y","type":"quantitative","scale":{"domain":[-2.1,81.3],"nice":false,"zero":false},"axis":null}}},
{"mark":{"type":"point","opacity":0},"encoding":{"x":{"datum":35,"type":"quantitative","scale":{"domain":[33,37.78],"nice":false,"zero":false},"axis":{"orient":"bottom","values":[33.301,33.477,33.602,33.699,33.778,33.845,33.903,33.954,34.301,34.477,34.602,34.699,34.778,34.845,34.903,34.954,35.301,35.477,35.602,35.699,35.778,35.845,35.903,35.954,36.301,36.477,36.602,36.699,36.778,36.845,36.903,36.954,37.301,37.477,37.602,37.699,37.778],"tickCount":100,"labels":false,"tickSize":-2.5,"title":null}},"y":{"datum":0,"type":"quantitative","scale":{"domain":[-2.1,81.3],"nice":false,"zero":false},"axis":{"orient":"left","values":[0,5,10,15,20,25,30,35,40,45,50,55,60,65,70,75,80],"tickCount":100,"labels":false,"tickSize":-2.5,"title":null}}}},
{"mark":{"type":"point","opacity":0},"encoding":{"x":{"datum":-10,"type":"quantitative","scale":{"domain":[-12.17,-7.39],"nice":false,"zero":false},"axis":{"orient":"top","values":[-13,-12,-11,-10,-9,-8],"labelExpr":"'10'+(datum.value==-13?'⁻¹³':datum.value==-12?'⁻¹²':datum.value==-11?'⁻¹¹':datum.value==-10?'⁻¹⁰':datum.value==-9?'⁻⁹':'⁻⁸')","tickSize":-5,"labelPadding":10,"labelFontSize":10,"title":null}},"y":{"datum":0,"type":"quantitative","scale":{"domain":[-2.1,81.3],"nice":false,"zero":false},"axis":{"orient":"right","values":[0,20,40,60,80],"labels":false,"tickSize":-5,"title":null}}}},
{"mark":{"type":"point","opacity":0},"encoding":{"x":{"datum":-10,"type":"quantitative","scale":{"domain":[-12.17,-7.39],"nice":false,"zero":false},"axis":{"orient":"top","values":[-13.699,-13.523,-13.398,-13.301,-13.222,-13.155,-13.097,-13.046,-12.699,-12.523,-12.398,-12.301,-12.222,-12.155,-12.097,-12.046,-11.699,-11.523,-11.398,-11.301,-11.222,-11.155,-11.097,-11.046,-10.699,-10.523,-10.398,-10.301,-10.222,-10.155,-10.097,-10.046,-9.699,-9.523,-9.398,-9.301,-9.222,-9.155,-9.097,-9.046,-8.699,-8.523,-8.398,-8.301,-8.222,-8.155,-8.097,-8.046,-7.699,-7.523,-7.398,-7.301,-7.222,-7.155,-7.097,-7.046],"tickCount":100,"labels":false,"tickSize":-2.5,"title":null}},"y":{"datum":0,"type":"quantitative","scale":{"domain":[-2.1,81.3],"nice":false,"zero":false},"axis":{"orient":"right","values":[0,5,10,15,20,25,30,35,40,45,50,55,60,65,70,75,80],"tickCount":100,"labels":false,"tickSize":-2.5,"title":null}}}},
{"data":{"name":"t"},"transform":[{"filter":"datum.p==7"}],"mark":{"type":"text","align":"right","baseline":"alphabetic"},"encoding":{"x":{"datum":37.71,"type":"quantitative","scale":{"domain":[33,37.78],"nice":false,"zero":false},"axis":null},"y":{"datum":71.0,"type":"quantitative","scale":{"domain":[-2.1,81.3],"nice":false,"zero":false},"axis":null},"text":{"field":"name"}}},
{"data":{"name":"t"},"transform":[{"filter":"datum.p==7"}],"mark":{"type":"text","align":"right","baseline":"alphabetic"},"encoding":{"x":{"datum":37.57,"type":"quantitative","scale":{"domain":[33,37.78],"nice":false,"zero":false},"axis":null},"y":{"datum":63.9,"type":"quantitative","scale":{"domain":[-2.1,81.3],"nice":false,"zero":false},"axis":null},"text":{"field":"n"}}}
]},
{"width":209,"height":158,"data":{"name":"h"},"transform":[{"filter":"datum.p==8"}],
"resolve":{"scale":{"x":"independent"},"axis":{"x":"independent","y":"independent"}},
"layer":[
{"transform":[{"filter":"datum.s=='k'"}],"mark":{"type":"line","interpolate":"step","color":"#000","strokeWidth":3,"strokeJoin":"miter"},"encoding":{"x":{"field":"x","type":"quantitative","scale":{"domain":[33,37.78],"nice":false,"zero":false},"axis":{"orient":"bottom","values":[33,34,35,36,37],"labelExpr":"'10'+(datum.value==33?'³³':datum.value==34?'³⁴':datum.value==35?'³⁵':datum.value==36?'³⁶':'³⁷')","tickSize":-5,"labelPadding":10.5,"labelFontSize":10.5,"title":null}},"y":{"field":"y","type":"quantitative","scale":{"domain":[-3.4,130.8],"nice":false,"zero":false},"axis":{"orient":"left","values":[0,20,40,60,80,100,120],"tickSize":-5,"labelPadding":10,"labelFontSize":11.5,"title":null}}}},
{"transform":[{"filter":"datum.s=='c'"}],"mark":{"type":"line","interpolate":"step","color":"#ff0000","strokeWidth":1.3},"encoding":{"x":{"field":"x","type":"quantitative","scale":{"domain":[33,37.78],"nice":false,"zero":false},"axis":null},"y":{"field":"y","type":"quantitative","scale":{"domain":[-3.4,130.8],"nice":false,"zero":false},"axis":null}}},
{"mark":{"type":"point","opacity":0},"encoding":{"x":{"datum":35,"type":"quantitative","scale":{"domain":[33,37.78],"nice":false,"zero":false},"axis":{"orient":"bottom","values":[33.301,33.477,33.602,33.699,33.778,33.845,33.903,33.954,34.301,34.477,34.602,34.699,34.778,34.845,34.903,34.954,35.301,35.477,35.602,35.699,35.778,35.845,35.903,35.954,36.301,36.477,36.602,36.699,36.778,36.845,36.903,36.954,37.301,37.477,37.602,37.699,37.778],"tickCount":100,"labels":false,"tickSize":-2.5,"title":null}},"y":{"datum":0,"type":"quantitative","scale":{"domain":[-3.4,130.8],"nice":false,"zero":false},"axis":{"orient":"left","values":[0,5,10,15,20,25,30,35,40,45,50,55,60,65,70,75,80,85,90,95,100,105,110,115,120,125,130],"tickCount":100,"labels":false,"tickSize":-2.5,"title":null}}}},
{"mark":{"type":"point","opacity":0},"encoding":{"x":{"datum":-10,"type":"quantitative","scale":{"domain":[-12.77,-7.99],"nice":false,"zero":false},"axis":{"orient":"top","values":[-13,-12,-11,-10,-9,-8],"labelExpr":"'10'+(datum.value==-13?'⁻¹³':datum.value==-12?'⁻¹²':datum.value==-11?'⁻¹¹':datum.value==-10?'⁻¹⁰':datum.value==-9?'⁻⁹':'⁻⁸')","tickSize":-5,"labelPadding":10,"labelFontSize":10,"title":null}},"y":{"datum":0,"type":"quantitative","scale":{"domain":[-3.4,130.8],"nice":false,"zero":false},"axis":{"orient":"right","values":[0,20,40,60,80,100,120],"labels":false,"tickSize":-5,"title":null}}}},
{"mark":{"type":"point","opacity":0},"encoding":{"x":{"datum":-10,"type":"quantitative","scale":{"domain":[-12.77,-7.99],"nice":false,"zero":false},"axis":{"orient":"top","values":[-13.699,-13.523,-13.398,-13.301,-13.222,-13.155,-13.097,-13.046,-12.699,-12.523,-12.398,-12.301,-12.222,-12.155,-12.097,-12.046,-11.699,-11.523,-11.398,-11.301,-11.222,-11.155,-11.097,-11.046,-10.699,-10.523,-10.398,-10.301,-10.222,-10.155,-10.097,-10.046,-9.699,-9.523,-9.398,-9.301,-9.222,-9.155,-9.097,-9.046,-8.699,-8.523,-8.398,-8.301,-8.222,-8.155,-8.097,-8.046,-7.699,-7.523,-7.398,-7.301,-7.222,-7.155,-7.097,-7.046],"tickCount":100,"labels":false,"tickSize":-2.5,"title":null}},"y":{"datum":0,"type":"quantitative","scale":{"domain":[-3.4,130.8],"nice":false,"zero":false},"axis":{"orient":"right","values":[0,5,10,15,20,25,30,35,40,45,50,55,60,65,70,75,80,85,90,95,100,105,110,115,120,125,130],"tickCount":100,"labels":false,"tickSize":-2.5,"title":null}}}},
{"data":{"name":"t"},"transform":[{"filter":"datum.p==8"}],"mark":{"type":"text","align":"right","baseline":"alphabetic"},"encoding":{"x":{"datum":37.71,"type":"quantitative","scale":{"domain":[33,37.78],"nice":false,"zero":false},"axis":null},"y":{"datum":114.2,"type":"quantitative","scale":{"domain":[-3.4,130.8],"nice":false,"zero":false},"axis":null},"text":{"field":"name"}}},
{"data":{"name":"t"},"transform":[{"filter":"datum.p==8"}],"mark":{"type":"text","align":"right","baseline":"alphabetic"},"encoding":{"x":{"datum":37.57,"type":"quantitative","scale":{"domain":[33,37.78],"nice":false,"zero":false},"axis":null},"y":{"datum":102.8,"type":"quantitative","scale":{"domain":[-3.4,130.8],"nice":false,"zero":false},"axis":null},"text":{"field":"n"}}}
]},
{"width":209,"height":158,"data":{"name":"h"},"transform":[{"filter":"datum.p==9"}],
"resolve":{"scale":{"x":"independent"},"axis":{"x":"independent","y":"independent"}},
"layer":[
{"transform":[{"filter":"datum.s=='k'"}],"mark":{"type":"line","interpolate":"step","color":"#000","strokeWidth":3,"strokeJoin":"miter"},"encoding":{"x":{"field":"x","type":"quantitative","scale":{"domain":[33,37.78],"nice":false,"zero":false},"axis":{"orient":"bottom","values":[33,34,35,36,37],"labelExpr":"'10'+(datum.value==33?'³³':datum.value==34?'³⁴':datum.value==35?'³⁵':datum.value==36?'³⁶':'³⁷')","tickSize":-5,"labelPadding":10.5,"labelFontSize":10.5,"title":"Luminosity (erg s⁻¹)","titleFontSize":12.5,"titlePadding":3}},"y":{"field":"y","type":"quantitative","scale":{"domain":[-3.4,130.8],"nice":false,"zero":false},"axis":{"orient":"left","values":[0,20,40,60,80,100,120],"tickSize":-5,"labelPadding":10,"labelFontSize":11.5,"title":"Number density","titleFontSize":13,"titlePadding":8}}}},
{"transform":[{"filter":"datum.s=='c'"}],"mark":{"type":"line","interpolate":"step","color":"#ff0000","strokeWidth":1.3},"encoding":{"x":{"field":"x","type":"quantitative","scale":{"domain":[33,37.78],"nice":false,"zero":false},"axis":null},"y":{"field":"y","type":"quantitative","scale":{"domain":[-3.4,130.8],"nice":false,"zero":false},"axis":null}}},
{"mark":{"type":"point","opacity":0},"encoding":{"x":{"datum":35,"type":"quantitative","scale":{"domain":[33,37.78],"nice":false,"zero":false},"axis":{"orient":"bottom","values":[33.301,33.477,33.602,33.699,33.778,33.845,33.903,33.954,34.301,34.477,34.602,34.699,34.778,34.845,34.903,34.954,35.301,35.477,35.602,35.699,35.778,35.845,35.903,35.954,36.301,36.477,36.602,36.699,36.778,36.845,36.903,36.954,37.301,37.477,37.602,37.699,37.778],"tickCount":100,"labels":false,"tickSize":-2.5,"title":null}},"y":{"datum":0,"type":"quantitative","scale":{"domain":[-3.4,130.8],"nice":false,"zero":false},"axis":{"orient":"left","values":[0,5,10,15,20,25,30,35,40,45,50,55,60,65,70,75,80,85,90,95,100,105,110,115,120,125,130],"tickCount":100,"labels":false,"tickSize":-2.5,"title":null}}}},
{"mark":{"type":"point","opacity":0},"encoding":{"x":{"datum":-10,"type":"quantitative","scale":{"domain":[-12.66,-7.88],"nice":false,"zero":false},"axis":{"orient":"top","values":[-13,-12,-11,-10,-9,-8],"labelExpr":"'10'+(datum.value==-13?'⁻¹³':datum.value==-12?'⁻¹²':datum.value==-11?'⁻¹¹':datum.value==-10?'⁻¹⁰':datum.value==-9?'⁻⁹':'⁻⁸')","tickSize":-5,"labelPadding":10,"labelFontSize":10,"title":null}},"y":{"datum":0,"type":"quantitative","scale":{"domain":[-3.4,130.8],"nice":false,"zero":false},"axis":{"orient":"right","values":[0,20,40,60,80,100,120],"labels":false,"tickSize":-5,"title":null}}}},
{"mark":{"type":"point","opacity":0},"encoding":{"x":{"datum":-10,"type":"quantitative","scale":{"domain":[-12.66,-7.88],"nice":false,"zero":false},"axis":{"orient":"top","values":[-13.699,-13.523,-13.398,-13.301,-13.222,-13.155,-13.097,-13.046,-12.699,-12.523,-12.398,-12.301,-12.222,-12.155,-12.097,-12.046,-11.699,-11.523,-11.398,-11.301,-11.222,-11.155,-11.097,-11.046,-10.699,-10.523,-10.398,-10.301,-10.222,-10.155,-10.097,-10.046,-9.699,-9.523,-9.398,-9.301,-9.222,-9.155,-9.097,-9.046,-8.699,-8.523,-8.398,-8.301,-8.222,-8.155,-8.097,-8.046,-7.699,-7.523,-7.398,-7.301,-7.222,-7.155,-7.097,-7.046],"tickCount":100,"labels":false,"tickSize":-2.5,"title":null}},"y":{"datum":0,"type":"quantitative","scale":{"domain":[-3.4,130.8],"nice":false,"zero":false},"axis":{"orient":"right","values":[0,5,10,15,20,25,30,35,40,45,50,55,60,65,70,75,80,85,90,95,100,105,110,115,120,125,130],"tickCount":100,"labels":false,"tickSize":-2.5,"title":null}}}},
{"data":{"name":"t"},"transform":[{"filter":"datum.p==9"}],"mark":{"type":"text","align":"right","baseline":"alphabetic"},"encoding":{"x":{"datum":37.71,"type":"quantitative","scale":{"domain":[33,37.78],"nice":false,"zero":false},"axis":null},"y":{"datum":114.2,"type":"quantitative","scale":{"domain":[-3.4,130.8],"nice":false,"zero":false},"axis":null},"text":{"field":"name"}}},
{"data":{"name":"t"},"transform":[{"filter":"datum.p==9"}],"mark":{"type":"text","align":"right","baseline":"alphabetic"},"encoding":{"x":{"datum":37.57,"type":"quantitative","scale":{"domain":[33,37.78],"nice":false,"zero":false},"axis":null},"y":{"datum":102.8,"type":"quantitative","scale":{"domain":[-3.4,130.8],"nice":false,"zero":false},"axis":null},"text":{"field":"n"}}}
]},
{"width":209,"height":158,"data":{"name":"h"},"transform":[{"filter":"datum.p==10"}],
"resolve":{"scale":{"x":"independent"},"axis":{"x":"independent","y":"independent"}},
"layer":[
{"transform":[{"filter":"datum.s=='k'"}],"mark":{"type":"line","interpolate":"step","color":"#000","strokeWidth":3,"strokeJoin":"miter"},"encoding":{"x":{"field":"x","type":"quantitative","scale":{"domain":[33,37.78],"nice":false,"zero":false},"axis":{"orient":"bottom","values":[33,34,35,36,37],"labelExpr":"'10'+(datum.value==33?'³³':datum.value==34?'³⁴':datum.value==35?'³⁵':datum.value==36?'³⁶':'³⁷')","tickSize":-5,"labelPadding":10.5,"labelFontSize":10.5,"title":"Luminosity (erg s⁻¹)","titleFontSize":12.5,"titlePadding":3}},"y":{"field":"y","type":"quantitative","scale":{"domain":[-1.6,61],"nice":false,"zero":false},"axis":{"orient":"left","values":[0,10,20,30,40,50,60],"tickSize":-5,"labelPadding":10,"labelFontSize":11.5,"title":null}}}},
{"mark":{"type":"point","opacity":0},"encoding":{"x":{"datum":35,"type":"quantitative","scale":{"domain":[33,37.78],"nice":false,"zero":false},"axis":{"orient":"bottom","values":[33.301,33.477,33.602,33.699,33.778,33.845,33.903,33.954,34.301,34.477,34.602,34.699,34.778,34.845,34.903,34.954,35.301,35.477,35.602,35.699,35.778,35.845,35.903,35.954,36.301,36.477,36.602,36.699,36.778,36.845,36.903,36.954,37.301,37.477,37.602,37.699,37.778],"tickCount":100,"labels":false,"tickSize":-2.5,"title":null}},"y":{"datum":0,"type":"quantitative","scale":{"domain":[-1.6,61],"nice":false,"zero":false},"axis":{"orient":"left","values":[0,2,4,6,8,10,12,14,16,18,20,22,24,26,28,30,32,34,36,38,40,42,44,46,48,50,52,54,56,58,60],"tickCount":100,"labels":false,"tickSize":-2.5,"title":null}}}},
{"mark":{"type":"point","opacity":0},"encoding":{"x":{"datum":-10,"type":"quantitative","scale":{"domain":[-13.24,-8.46],"nice":false,"zero":false},"axis":{"orient":"top","values":[-13,-12,-11,-10,-9,-8],"labelExpr":"'10'+(datum.value==-13?'⁻¹³':datum.value==-12?'⁻¹²':datum.value==-11?'⁻¹¹':datum.value==-10?'⁻¹⁰':datum.value==-9?'⁻⁹':'⁻⁸')","tickSize":-5,"labelPadding":10,"labelFontSize":10,"title":null}},"y":{"datum":0,"type":"quantitative","scale":{"domain":[-1.6,61],"nice":false,"zero":false},"axis":{"orient":"right","values":[0,10,20,30,40,50,60],"labels":false,"tickSize":-5,"title":null}}}},
{"mark":{"type":"point","opacity":0},"encoding":{"x":{"datum":-10,"type":"quantitative","scale":{"domain":[-13.24,-8.46],"nice":false,"zero":false},"axis":{"orient":"top","values":[-13.699,-13.523,-13.398,-13.301,-13.222,-13.155,-13.097,-13.046,-12.699,-12.523,-12.398,-12.301,-12.222,-12.155,-12.097,-12.046,-11.699,-11.523,-11.398,-11.301,-11.222,-11.155,-11.097,-11.046,-10.699,-10.523,-10.398,-10.301,-10.222,-10.155,-10.097,-10.046,-9.699,-9.523,-9.398,-9.301,-9.222,-9.155,-9.097,-9.046,-8.699,-8.523,-8.398,-8.301,-8.222,-8.155,-8.097,-8.046,-7.699,-7.523,-7.398,-7.301,-7.222,-7.155,-7.097,-7.046],"tickCount":100,"labels":false,"tickSize":-2.5,"title":null}},"y":{"datum":0,"type":"quantitative","scale":{"domain":[-1.6,61],"nice":false,"zero":false},"axis":{"orient":"right","values":[0,2,4,6,8,10,12,14,16,18,20,22,24,26,28,30,32,34,36,38,40,42,44,46,48,50,52,54,56,58,60],"tickCount":100,"labels":false,"tickSize":-2.5,"title":null}}}},
{"data":{"name":"t"},"transform":[{"filter":"datum.p==10"}],"mark":{"type":"text","align":"left","baseline":"alphabetic"},"encoding":{"x":{"datum":33.43,"type":"quantitative","scale":{"domain":[33,37.78],"nice":false,"zero":false},"axis":null},"y":{"datum":52.4,"type":"quantitative","scale":{"domain":[-1.6,61],"nice":false,"zero":false},"axis":null},"text":{"field":"name"}}},
{"data":{"name":"t"},"transform":[{"filter":"datum.p==10"}],"mark":{"type":"text","align":"left","baseline":"alphabetic"},"encoding":{"x":{"datum":33.43,"type":"quantitative","scale":{"domain":[33,37.78],"nice":false,"zero":false},"axis":null},"y":{"datum":47.1,"type":"quantitative","scale":{"domain":[-1.6,61],"nice":false,"zero":false},"axis":null},"text":{"field":"n"}}}
]},
{"width":209,"height":158,"data":{"name":"h"},"transform":[{"filter":"datum.p==11"}],
"resolve":{"scale":{"x":"independent"},"axis":{"x":"independent","y":"independent"}},
"layer":[
{"transform":[{"filter":"datum.s=='k'"}],"mark":{"type":"line","interpolate":"step","color":"#000","strokeWidth":3,"strokeJoin":"miter"},"encoding":{"x":{"field":"x","type":"quantitative","scale":{"domain":[33,37.78],"nice":false,"zero":false},"axis":{"orient":"bottom","values":[33,34,35,36,37],"labelExpr":"'10'+(datum.value==33?'³³':datum.value==34?'³⁴':datum.value==35?'³⁵':datum.value==36?'³⁶':'³⁷')","tickSize":-5,"labelPadding":10.5,"labelFontSize":10.5,"title":"Luminosity (erg s⁻¹)","titleFontSize":12.5,"titlePadding":3}},"y":{"field":"y","type":"quantitative","scale":{"domain":[-0.9,35.6],"nice":false,"zero":false},"axis":{"orient":"left","values":[0,5,10,15,20,25,30,35],"tickSize":-5,"labelPadding":10,"labelFontSize":11.5,"title":null}}}},
{"mark":{"type":"point","opacity":0},"encoding":{"x":{"datum":35,"type":"quantitative","scale":{"domain":[33,37.78],"nice":false,"zero":false},"axis":{"orient":"bottom","values":[33.301,33.477,33.602,33.699,33.778,33.845,33.903,33.954,34.301,34.477,34.602,34.699,34.778,34.845,34.903,34.954,35.301,35.477,35.602,35.699,35.778,35.845,35.903,35.954,36.301,36.477,36.602,36.699,36.778,36.845,36.903,36.954,37.301,37.477,37.602,37.699,37.778],"tickCount":100,"labels":false,"tickSize":-2.5,"title":null}},"y":{"datum":0,"type":"quantitative","scale":{"domain":[-0.9,35.6],"nice":false,"zero":false},"axis":{"orient":"left","values":[0,1,2,3,4,5,6,7,8,9,10,11,12,13,14,15,16,17,18,19,20,21,22,23,24,25,26,27,28,29,30,31,32,33,34,35],"tickCount":100,"labels":false,"tickSize":-2.5,"title":null}}}},
{"mark":{"type":"point","opacity":0},"encoding":{"x":{"datum":-10,"type":"quantitative","scale":{"domain":[-12.93,-8.15],"nice":false,"zero":false},"axis":{"orient":"top","values":[-13,-12,-11,-10,-9,-8],"labelExpr":"'10'+(datum.value==-13?'⁻¹³':datum.value==-12?'⁻¹²':datum.value==-11?'⁻¹¹':datum.value==-10?'⁻¹⁰':datum.value==-9?'⁻⁹':'⁻⁸')","tickSize":-5,"labelPadding":10,"labelFontSize":10,"title":null}},"y":{"datum":0,"type":"quantitative","scale":{"domain":[-0.9,35.6],"nice":false,"zero":false},"axis":{"orient":"right","values":[0,5,10,15,20,25,30,35],"labels":false,"tickSize":-5,"title":null}}}},
{"mark":{"type":"point","opacity":0},"encoding":{"x":{"datum":-10,"type":"quantitative","scale":{"domain":[-12.93,-8.15],"nice":false,"zero":false},"axis":{"orient":"top","values":[-13.699,-13.523,-13.398,-13.301,-13.222,-13.155,-13.097,-13.046,-12.699,-12.523,-12.398,-12.301,-12.222,-12.155,-12.097,-12.046,-11.699,-11.523,-11.398,-11.301,-11.222,-11.155,-11.097,-11.046,-10.699,-10.523,-10.398,-10.301,-10.222,-10.155,-10.097,-10.046,-9.699,-9.523,-9.398,-9.301,-9.222,-9.155,-9.097,-9.046,-8.699,-8.523,-8.398,-8.301,-8.222,-8.155,-8.097,-8.046,-7.699,-7.523,-7.398,-7.301,-7.222,-7.155,-7.097,-7.046],"tickCount":100,"labels":false,"tickSize":-2.5,"title":null}},"y":{"datum":0,"type":"quantitative","scale":{"domain":[-0.9,35.6],"nice":false,"zero":false},"axis":{"orient":"right","values":[0,1,2,3,4,5,6,7,8,9,10,11,12,13,14,15,16,17,18,19,20,21,22,23,24,25,26,27,28,29,30,31,32,33,34,35],"tickCount":100,"labels":false,"tickSize":-2.5,"title":null}}}},
{"data":{"name":"t"},"transform":[{"filter":"datum.p==11"}],"mark":{"type":"text","align":"right","baseline":"alphabetic"},"encoding":{"x":{"datum":37.71,"type":"quantitative","scale":{"domain":[33,37.78],"nice":false,"zero":false},"axis":null},"y":{"datum":31.1,"type":"quantitative","scale":{"domain":[-0.9,35.6],"nice":false,"zero":false},"axis":null},"text":{"field":"name"}}},
{"data":{"name":"t"},"transform":[{"filter":"datum.p==11"}],"mark":{"type":"text","align":"right","baseline":"alphabetic"},"encoding":{"x":{"datum":37.57,"type":"quantitative","scale":{"domain":[33,37.78],"nice":false,"zero":false},"axis":null},"y":{"datum":28.0,"type":"quantitative","scale":{"domain":[-0.9,35.6],"nice":false,"zero":false},"axis":null},"text":{"field":"n"}}}
]},
{"width":209,"height":158,"data":{"name":"h"},"transform":[{"filter":"datum.p==12"}],
"resolve":{"scale":{"x":"independent"},"axis":{"x":"independent","y":"independent"}},
"layer":[
{"transform":[{"filter":"datum.s=='k'"}],"mark":{"type":"line","interpolate":"step","color":"#000","strokeWidth":3,"strokeJoin":"miter"},"encoding":{"x":{"field":"x","type":"quantitative","scale":{"domain":[33,37.78],"nice":false,"zero":false},"axis":{"orient":"bottom","values":[33,34,35,36,37],"labelExpr":"'10'+(datum.value==33?'³³':datum.value==34?'³⁴':datum.value==35?'³⁵':datum.value==36?'³⁶':'³⁷')","tickSize":-5,"labelPadding":10.5,"labelFontSize":10.5,"title":"Luminosity (erg s⁻¹)","titleFontSize":12.5,"titlePadding":3}},"y":{"field":"y","type":"quantitative","scale":{"domain":[-1.05,40.7],"nice":false,"zero":false},"axis":{"orient":"left","values":[0,10,20,30,40],"tickSize":-5,"labelPadding":10,"labelFontSize":11.5,"title":null}}}},
{"mark":{"type":"point","opacity":0},"encoding":{"x":{"datum":35,"type":"quantitative","scale":{"domain":[33,37.78],"nice":false,"zero":false},"axis":{"orient":"bottom","values":[33.301,33.477,33.602,33.699,33.778,33.845,33.903,33.954,34.301,34.477,34.602,34.699,34.778,34.845,34.903,34.954,35.301,35.477,35.602,35.699,35.778,35.845,35.903,35.954,36.301,36.477,36.602,36.699,36.778,36.845,36.903,36.954,37.301,37.477,37.602,37.699,37.778],"tickCount":100,"labels":false,"tickSize":-2.5,"title":null}},"y":{"datum":0,"type":"quantitative","scale":{"domain":[-1.05,40.7],"nice":false,"zero":false},"axis":{"orient":"left","values":[0,2,4,6,8,10,12,14,16,18,20,22,24,26,28,30,32,34,36,38,40],"tickCount":100,"labels":false,"tickSize":-2.5,"title":null}}}},
{"mark":{"type":"point","opacity":0},"encoding":{"x":{"datum":-10,"type":"quantitative","scale":{"domain":[-11.98,-7.20],"nice":false,"zero":false},"axis":{"orient":"top","values":[-13,-12,-11,-10,-9,-8],"labelExpr":"'10'+(datum.value==-13?'⁻¹³':datum.value==-12?'⁻¹²':datum.value==-11?'⁻¹¹':datum.value==-10?'⁻¹⁰':datum.value==-9?'⁻⁹':'⁻⁸')","tickSize":-5,"labelPadding":10,"labelFontSize":10,"title":null}},"y":{"datum":0,"type":"quantitative","scale":{"domain":[-1.05,40.7],"nice":false,"zero":false},"axis":{"orient":"right","values":[0,10,20,30,40],"labels":false,"tickSize":-5,"title":null}}}},
{"mark":{"type":"point","opacity":0},"encoding":{"x":{"datum":-10,"type":"quantitative","scale":{"domain":[-11.98,-7.20],"nice":false,"zero":false},"axis":{"orient":"top","values":[-13.699,-13.523,-13.398,-13.301,-13.222,-13.155,-13.097,-13.046,-12.699,-12.523,-12.398,-12.301,-12.222,-12.155,-12.097,-12.046,-11.699,-11.523,-11.398,-11.301,-11.222,-11.155,-11.097,-11.046,-10.699,-10.523,-10.398,-10.301,-10.222,-10.155,-10.097,-10.046,-9.699,-9.523,-9.398,-9.301,-9.222,-9.155,-9.097,-9.046,-8.699,-8.523,-8.398,-8.301,-8.222,-8.155,-8.097,-8.046,-7.699,-7.523,-7.398,-7.301,-7.222,-7.155,-7.097,-7.046],"tickCount":100,"labels":false,"tickSize":-2.5,"title":null}},"y":{"datum":0,"type":"quantitative","scale":{"domain":[-1.05,40.7],"nice":false,"zero":false},"axis":{"orient":"right","values":[0,2,4,6,8,10,12,14,16,18,20,22,24,26,28,30,32,34,36,38,40],"tickCount":100,"labels":false,"tickSize":-2.5,"title":null}}}},
{"data":{"name":"t"},"transform":[{"filter":"datum.p==12"}],"mark":{"type":"text","align":"right","baseline":"alphabetic"},"encoding":{"x":{"datum":37.71,"type":"quantitative","scale":{"domain":[33,37.78],"nice":false,"zero":false},"axis":null},"y":{"datum":35.55,"type":"quantitative","scale":{"domain":[-1.05,40.7],"nice":false,"zero":false},"axis":null},"text":{"field":"name"}}},
{"data":{"name":"t"},"transform":[{"filter":"datum.p==12"}],"mark":{"type":"text","align":"right","baseline":"alphabetic"},"encoding":{"x":{"datum":37.57,"type":"quantitative","scale":{"domain":[33,37.78],"nice":false,"zero":false},"axis":null},"y":{"datum":31.98,"type":"quantitative","scale":{"domain":[-1.05,40.7],"nice":false,"zero":false},"axis":null},"text":{"field":"n"}}}
]}
],
"config": {
"view": {"stroke": "#000000", "strokeWidth": 1},
"axis": {"domain": false, "grid": false, "tickColor": "#000000", "tickWidth": 1, "labelFont": "DejaVu Serif", "labelColor": "#000000", "titleFont": "DejaVu Serif", "titleFontWeight": "normal", "titleColor": "#000000", "labelFlush": false, "labelOverlap": false},
"text": {"font": "DejaVu Serif", "fontSize": 12.3, "color": "#000000"}
}
}
